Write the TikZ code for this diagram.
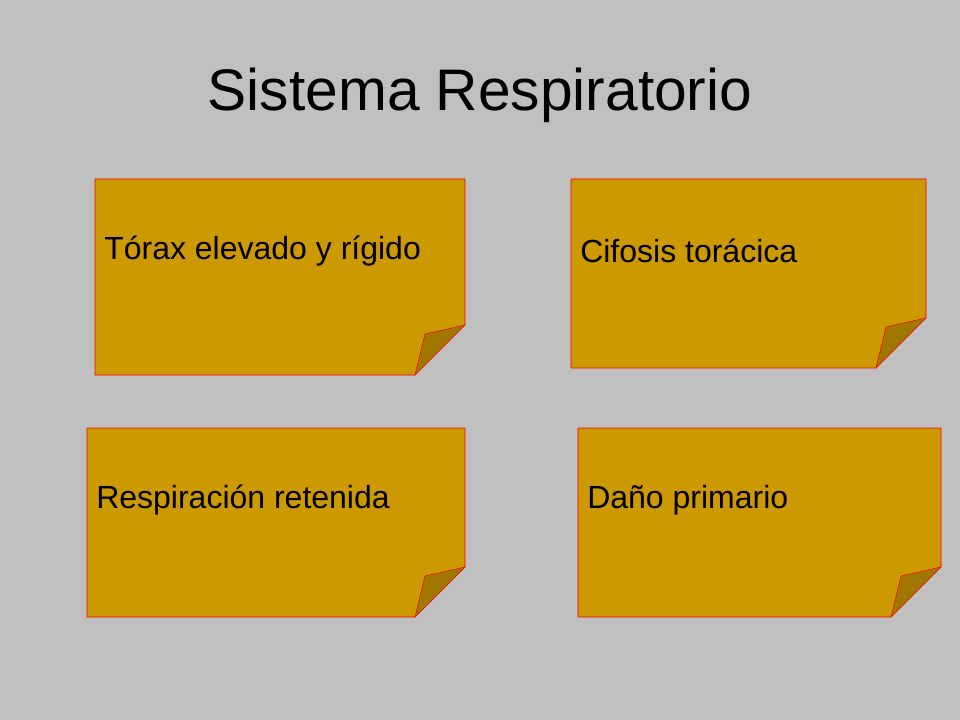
\documentclass[tikz,border=0pt]{standalone}
\usepackage{fontspec}
\setmainfont{Liberation Sans}
\definecolor{slidegray}{RGB}{192,192,192}
\definecolor{notefill}{RGB}{204,153,0}
\definecolor{foldfill}{RGB}{160,120,0}
\newcommand{\stickynote}[6]{% name, left, top, right, bottom, text
    \fill[notefill, draw=red] (#2,#3) -- (#4,#3) -- (#4,#5-50) -- (#4-50,#5) -- (#2,#5) -- cycle;
    \fill[foldfill, draw=red] (#4-50,#5) -- (#4-40,#5-41) -- (#4,#5-50) -- cycle;
    \node[notetext] (#1) at (#2+9,#3+72) {#6};
}
\begin{document}
\begin{tikzpicture}[
            x = 0.75pt, y = -0.75pt, % pixel grid
            notetext/.style = {anchor = west, font = \fontsize{24}{28}\selectfont, inner sep = 0pt}
        ]

        \fill[slidegray] (0,0) rectangle (960,720);
        \useasboundingbox (0,0) rectangle (960,720);

        \node (title) at (480,95) {\fontsize{44}{52}\selectfont Sistema Respiratorio};

        \stickynote{torax}{95}{179}{465}{375}{Tórax elevado y rígido}
        \stickynote{cifosis}{571}{179}{926}{368}{Cifosis torácica}
        \stickynote{respiracion}{87}{428}{465}{617}{Respiración retenida}
        \stickynote{dano}{578}{428}{941}{617}{Daño primario}
    \end{tikzpicture}
\end{document}
